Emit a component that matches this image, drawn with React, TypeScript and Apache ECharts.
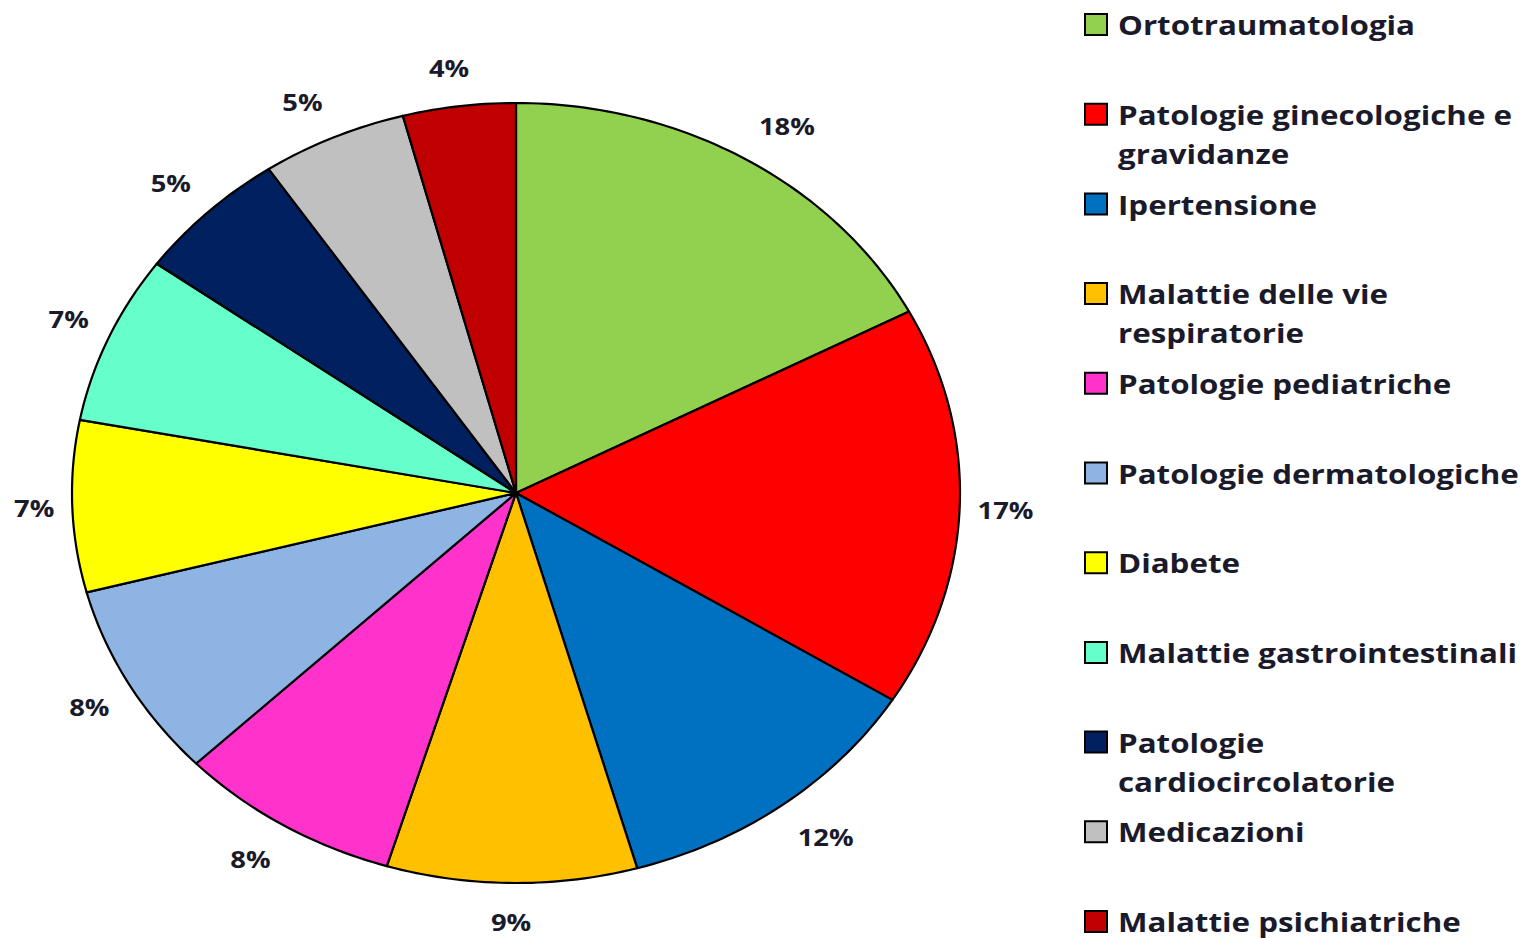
import React, { useEffect, useRef } from "react";
import * as echarts from "echarts";

const CATEGORIES = [
  "Ortotraumatologia",
  "Patologie ginecologiche e\ngravidanze",
  "Ipertensione",
  "Malattie delle vie\nrespiratorie",
  "Patologie pediatriche",
  "Patologie dermatologiche",
  "Diabete",
  "Malattie gastrointestinali",
  "Patologie\ncardiocircolatorie",
  "Medicazioni",
  "Malattie psichiatriche",
];
const VALUES = [17.3, 16.6, 11.7, 9.1, 8.1, 8.1, 7.1, 7.0, 5.6, 5.3, 4.1];
const PERCENT_LABELS = ["18%", "17%", "12%", "9%", "8%", "8%", "7%", "7%", "5%", "5%", "4%"];
const COLORS = [
  "#92D050",
  "#FF0000",
  "#0070C0",
  "#FFC000",
  "#FF33CC",
  "#8EB4E3",
  "#FFFF00",
  "#66FFCC",
  "#002060",
  "#C0C0C0",
  "#C00000",
];

const FONT = '"Open Sans", "DejaVu Sans", sans-serif';
const TEXT_COLOR = "#1a1a2a";
const STRETCH = 1.14;
const LEGEND_STRETCH = 1.16;

export default function App() {
  const ref = useRef<HTMLDivElement>(null);
  useEffect(() => {
    document.body.style.margin = "0";
    if (!ref.current) return;
    const chart = echarts.init(ref.current, null, { renderer: "svg" });
    const total = VALUES.reduce((a, b) => a + b, 0);
    const cum: number[] = [0];
    VALUES.forEach((v) => cum.push(cum[cum.length - 1] + v));

    const CX = 516, CY = 493, RX = 444, RY = 390;
    const LABEL_FS = 24;
    const clamp = (v: number) => Math.max(-1, Math.min(1, v));

    const renderItem = (params: any, api: any) => {
      const i = params.dataIndex;
      const a0 = (cum[i] / total) * Math.PI * 2;
      const a1 = (cum[i + 1] / total) * Math.PI * 2;
      const pts: number[][] = [[CX, CY]];
      const steps = Math.max(4, Math.ceil(((a1 - a0) * 180) / Math.PI));
      for (let s = 0; s <= steps; s++) {
        const t = a0 + ((a1 - a0) * s) / steps;
        pts.push([CX + RX * Math.sin(t), CY - RY * Math.cos(t)]);
      }
      const m = (a0 + a1) / 2;
      const dx = Math.sin(m), dy = -Math.cos(m);
      const ex = CX + RX * dx, ey = CY + RY * dy;
      const pct = PERCENT_LABELS[i];
      const hw = pct.length === 3 ? 27.5 : 19.7;
      const hh = 11;
      const g = 18 + 10 * Math.abs(dy);
      const lx = ex + dx * g + hw * clamp(dx * 2.5);
      const ly = ey + dy * g + hh * clamp(dy * 2.5);
      return {
        type: "group",
        children: [
          {
            type: "polygon",
            shape: { points: pts },
            style: { fill: COLORS[i], stroke: "#000", lineWidth: 2.2, lineJoin: "round" },
          },
          {
            type: "text",
            x: lx,
            y: ly,
            scaleX: STRETCH,
            style: {
              text: pct,
              x: 0,
              y: 0,
              align: "center",
              verticalAlign: "middle",
              font: `bold ${LABEL_FS}px ${FONT}`,
              fill: TEXT_COLOR,
            },
            z2: 10,
          },
        ],
      };
    };

    const legend: any[] = [];
    const STEP = 89.7;
    CATEGORIES.forEach((name, i) => {
      const multi = name.indexOf("\n") >= 0;
      legend.push({
        type: "rect",
        shape: { x: 1085, y: 14 + i * STEP, width: 22, height: 21 },
        style: { fill: COLORS[i], stroke: "#000", lineWidth: 2 },
      });
      legend.push({
        type: "text",
        x: 1118,
        y: multi ? 25 + i * STEP - 19.5 : 25 + i * STEP,
        scaleX: LEGEND_STRETCH,
        style: {
          text: name,
          x: 0,
          y: 0,
          align: "left",
          verticalAlign: multi ? "top" : "middle",
          font: `bold 27px ${FONT}`,
          lineHeight: multi ? 39 : 28,
          fill: TEXT_COLOR,
        },
      });
    });

    chart.setOption({
      animation: false,
      backgroundColor: "#fff",
      series: [
        {
          type: "custom",
          coordinateSystem: "none",
          renderItem,
          data: VALUES.map((v, i) => ({ name: CATEGORIES[i], value: v })),
        },
      ],
      graphic: legend,
    });
    return () => chart.dispose();
  }, []);
  return <div ref={ref} style={{ width: 1528, height: 939 }} />;
}
